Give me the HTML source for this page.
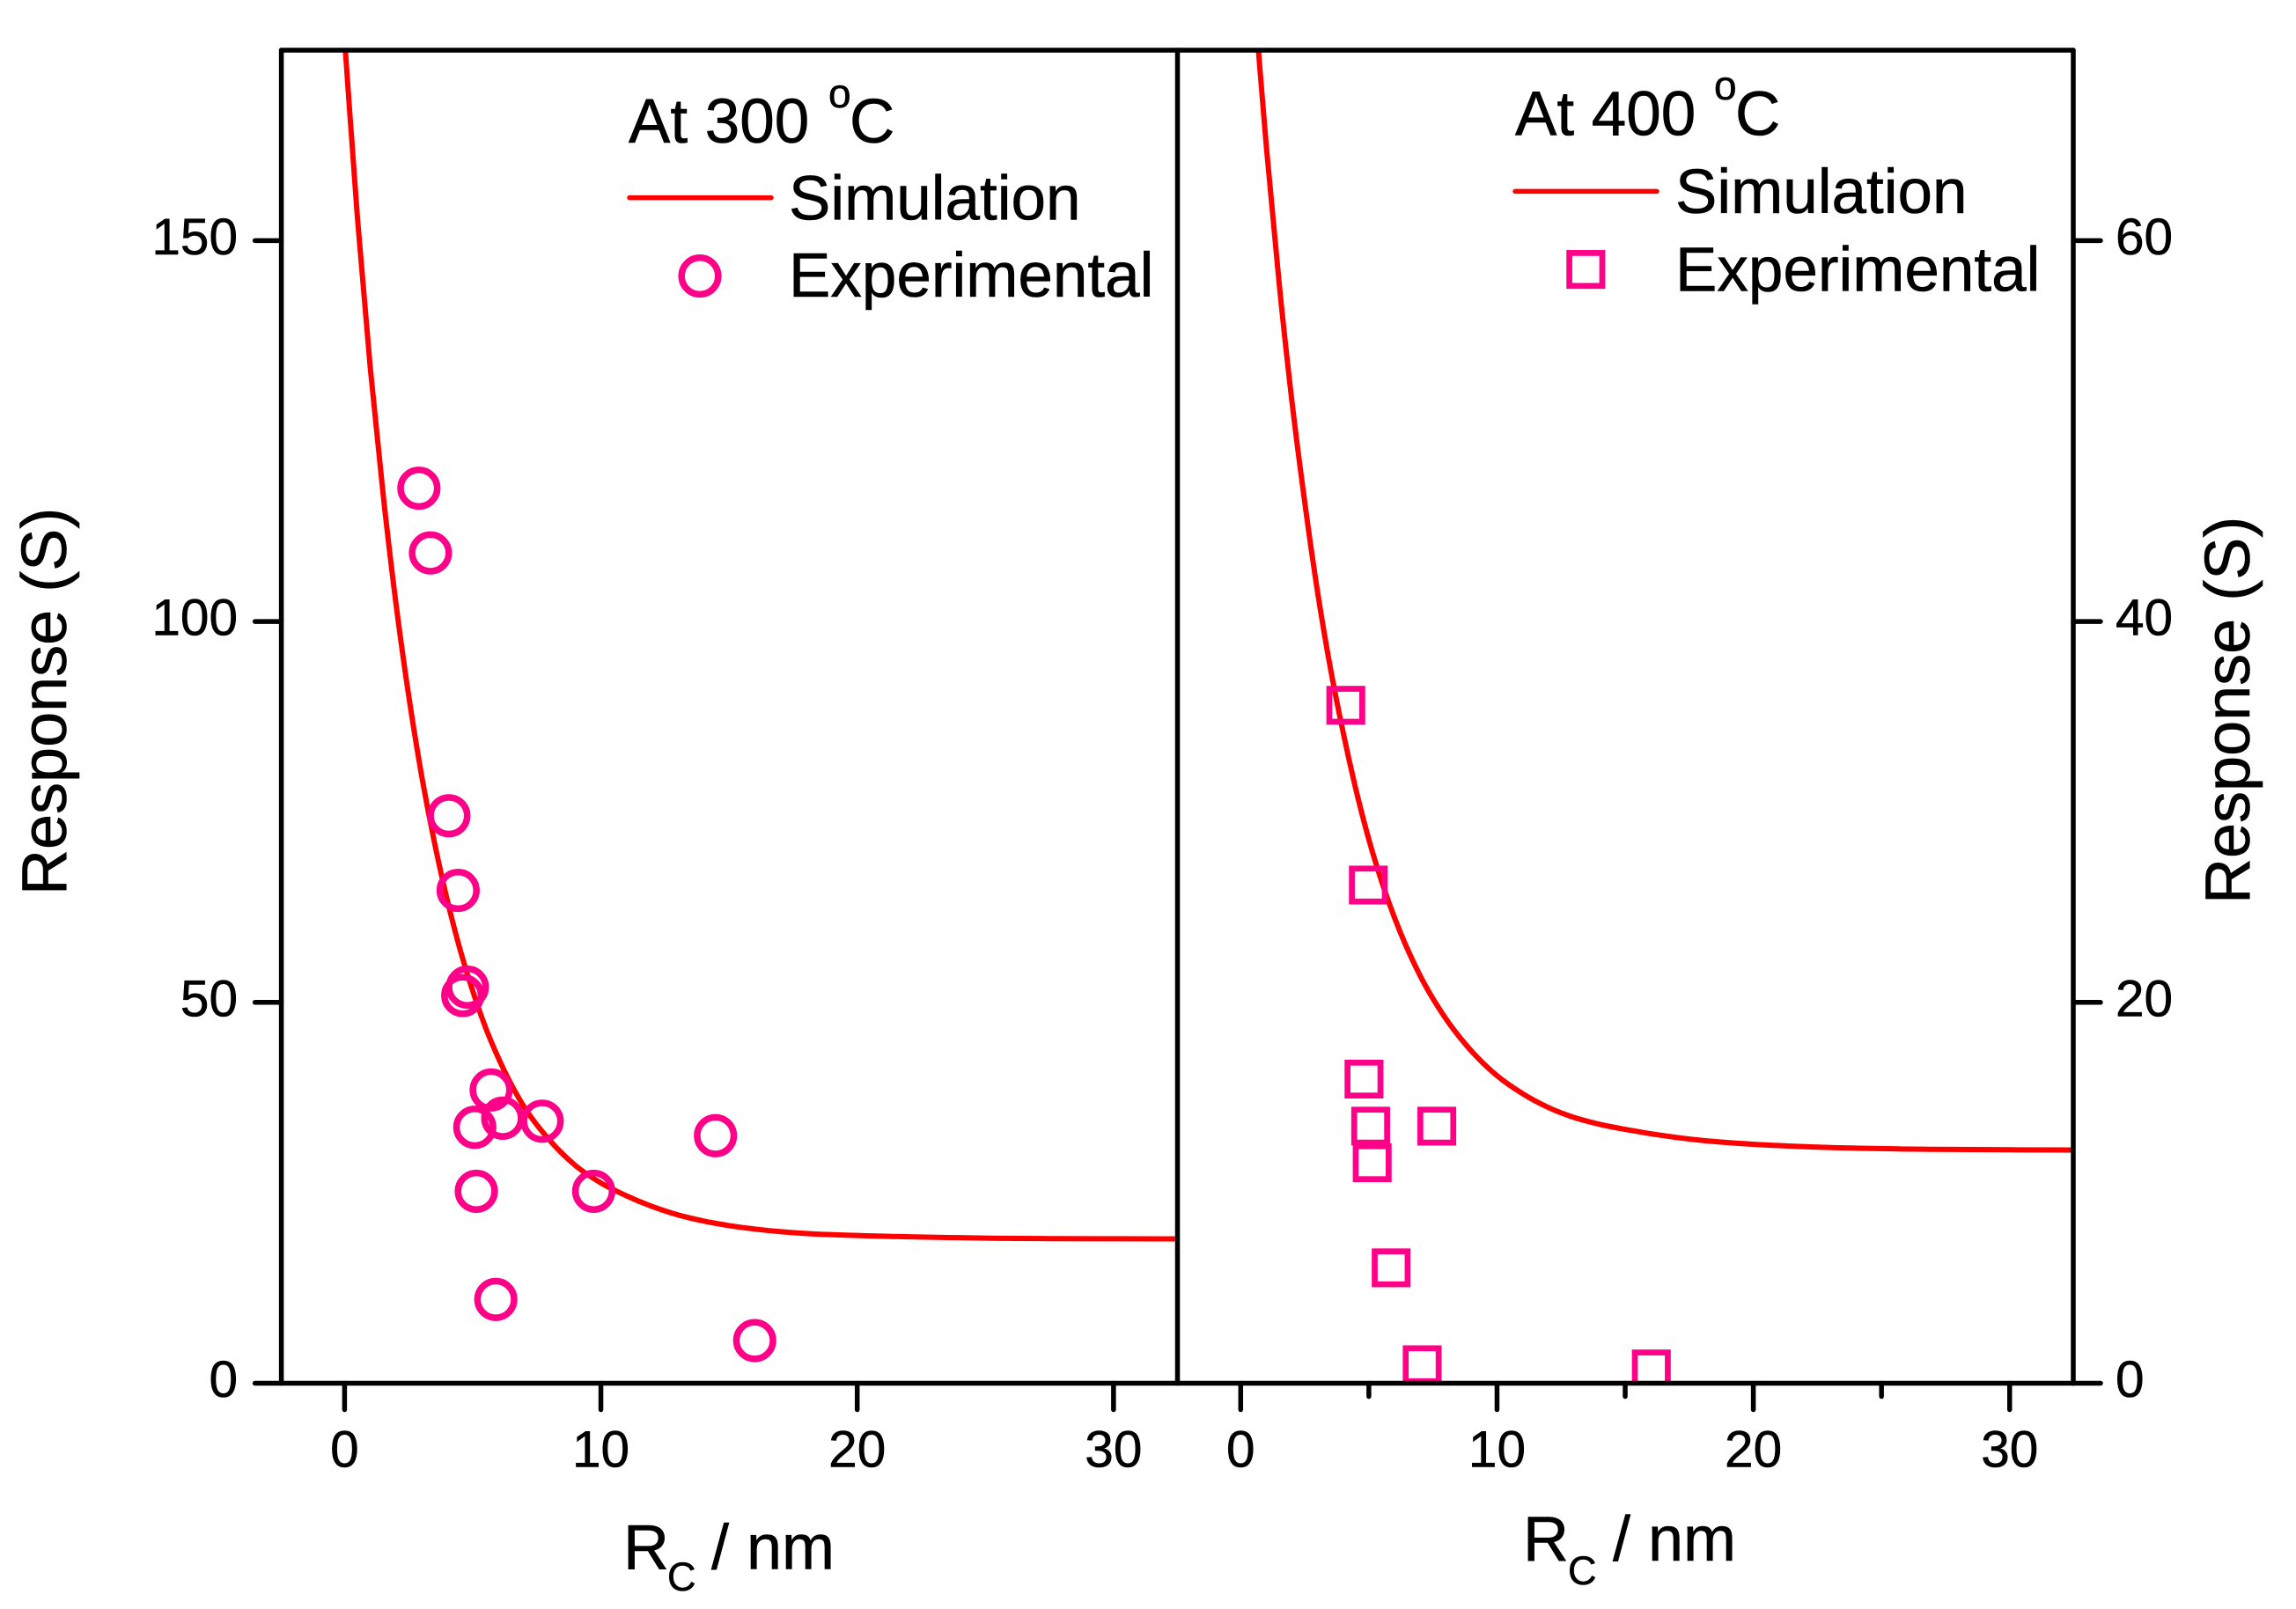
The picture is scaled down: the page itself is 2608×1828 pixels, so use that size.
<!DOCTYPE html>
<html lang="en">
<head>
<meta charset="utf-8">
<title>Response vs Rc</title>
<style>
html,body{margin:0;padding:0;background:#fff;}
svg{display:block;}
text{font-family:"Liberation Sans",Arial,sans-serif;fill:#000;stroke:#000;stroke-width:0.6px;}
.big{font-size:71px;}
.title{font-size:72px;}
.axt{font-size:72px;}
.tick{font-size:58.5px;}
.sub{font-size:45px;}
.deg{font-size:46px;}
</style>
</head>
<body>
<svg id="chart" xmlns="http://www.w3.org/2000/svg" width="2608" height="1828" viewBox="0 0 2608 1828">
  <defs>
    <clipPath id="clip-left"><rect x="319.6" y="57" width="1017.9" height="1514.5"/></clipPath>
    <clipPath id="clip-right"><rect x="1337.5" y="57" width="1017.5" height="1514.5"/></clipPath>
  </defs>
  <rect width="2608" height="1828" fill="#fff"/>
  <g id="left-marks" clip-path="url(#clip-left)"></g>
  <g id="right-marks" clip-path="url(#clip-right)"></g>
  <g id="axes"></g>

  <text class="title" transform="translate(75 1017) rotate(-90)">Response (S)</text>
  <text class="title" transform="translate(2555 1027) rotate(-90)">Response (S)</text>

  <g>
    <text class="axt" x="708" y="1782.6">R</text>
    <text class="sub" x="758" y="1807">C</text>
    <text class="axt" x="808" y="1782.6">/ nm</text>
  </g>
  <g>
    <text class="axt" x="1730" y="1773">R</text>
    <text class="sub" x="1781" y="1800">C</text>
    <text class="axt" x="1832" y="1773">/ nm</text>
  </g>

  <g>
    <text class="big" x="714" y="162">At 300</text>
    <text class="deg" x="941" y="122">o</text>
    <text class="big" x="965" y="162">C</text>
    <line x1="715" x2="876" y1="224.6" y2="224.6" stroke="#ff0000" stroke-width="5.5" stroke-linecap="round"/>
    <text class="big" x="896" y="249.5">Simulation</text>
    <circle cx="795" cy="313.6" r="20.8" fill="none" stroke="#ff0088" stroke-width="7.5"/>
    <text class="big" x="896" y="337">Experimental</text>
  </g>
  <g>
    <text class="big" x="1721" y="153.3">At 400</text>
    <text class="deg" x="1947" y="113">o</text>
    <text class="big" x="1971" y="153.3">C</text>
    <line x1="1721" x2="1882" y1="217.4" y2="217.4" stroke="#ff0000" stroke-width="5.5" stroke-linecap="round"/>
    <text class="big" x="1903" y="242">Simulation</text>
    <rect x="1782.6" y="287.4" width="37.4" height="37.4" fill="none" stroke="#ff0088" stroke-width="6.7"/>
    <text class="big" x="1903" y="330.5">Experimental</text>
  </g>
</svg>
<script>
// Values
const leftExpRc = [2.9, 3.35, 4.07, 4.43, 4.61, 4.79, 5.72, 5.08, 6.17, 7.71, 14.47, 5.14, 9.72, 5.9, 16.0];
const leftExpResponse = [117.5, 109.0, 74.5, 64.7, 50.9, 52.0, 38.5, 33.6, 34.8, 34.4, 32.5, 25.2, 25.2, 11.0, 5.6];
const leftSimRc = [0.03, 0.5, 1, 1.5, 2, 2.5, 3, 3.5, 4, 4.5, 5, 5.5, 6, 7, 8, 9, 10, 11, 12, 13, 14, 15, 16, 18, 20, 25, 32.4];
const leftSimResponse = [175, 153, 133.4, 116.8, 102.5, 90.3, 79.9, 71.1, 63.5, 57, 51.5, 46.7, 42.7, 36.3, 31.9, 28.6, 26.3, 24.6, 23.2, 22.1, 21.3, 20.7, 20.25, 19.65, 19.4, 19.05, 18.95];

const rightExpRc = [4.1, 4.98, 4.81, 5.07, 7.65, 5.13, 5.87, 7.08, 16.02];
const rightExpResponse = [35.6, 26.16, 15.97, 13.5, 13.5, 11.58, 6.06, 0.97, 0.75];
const rightSimRc = [0.69, 1, 1.5, 2, 2.5, 3, 3.5, 4, 4.5, 5, 5.5, 6, 7, 8, 9, 10, 11, 12, 13, 14, 15, 16, 18, 20, 22, 27, 32.4];
const rightSimResponse = [70, 64.95, 57.75, 51.55, 46.25, 41.55, 37.55, 34.15, 31.15, 28.55, 26.35, 24.45, 21.4, 19.15, 17.45, 16.15, 15.2, 14.48, 13.96, 13.6, 13.33, 13.1, 12.75, 12.55, 12.42, 12.28, 12.25];

const xTicks = [0, 10, 20, 30];
const xMinorTicks = [5, 15, 25];
const leftYTicks = [0, 50, 100, 150];
const rightYTicks = [0, 20, 40, 60];

const NS = 'http://www.w3.org/2000/svg';
const plotTop = 57, plotBottom = 1571.5;
const leftEdge = 319.6, midEdge = 1337.5, rightEdge = 2355;
const xUnit = 29.115;
const leftX = v => 391.4 + v * xUnit;
const rightX = v => 1409.3 + v * xUnit;
const leftY = v => plotBottom - v * (plotBottom - plotTop) / 175;
const rightY = v => plotBottom - v * (plotBottom - plotTop) / 70;

function svgEl(tag, attrs, parent, text) {
  const el = document.createElementNS(NS, tag);
  for (const k in attrs) el.setAttribute(k, attrs[k]);
  if (text !== undefined) el.textContent = text;
  parent.appendChild(el);
  return el;
}

// Cubic spline through the points, tangents weighted for uneven x spacing
function smoothPath(xs, ys) {
  const n = xs.length;
  const h = [], d = [], m = [];
  for (let i = 0; i < n - 1; i++) {
    h.push(xs[i + 1] - xs[i]);
    d.push((ys[i + 1] - ys[i]) / h[i]);
  }
  m.push(d[0]);
  for (let i = 1; i < n - 1; i++) {
    m.push((h[i] * d[i - 1] + h[i - 1] * d[i]) / (h[i - 1] + h[i]));
  }
  m.push(d[n - 2]);
  let out = 'M' + xs[0].toFixed(1) + ' ' + ys[0].toFixed(1);
  for (let i = 0; i < n - 1; i++) {
    const c1x = xs[i] + h[i] / 3, c1y = ys[i] + m[i] * h[i] / 3;
    const c2x = xs[i + 1] - h[i] / 3, c2y = ys[i + 1] - m[i + 1] * h[i] / 3;
    out += 'C' + c1x.toFixed(1) + ' ' + c1y.toFixed(1) + ' ' + c2x.toFixed(1) + ' ' + c2y.toFixed(1) + ' ' + xs[i + 1].toFixed(1) + ' ' + ys[i + 1].toFixed(1);
  }
  return out;
}

const leftMarks = document.getElementById('left-marks');
const rightMarks = document.getElementById('right-marks');
const axes = document.getElementById('axes');
const style = { stroke: '#000', 'stroke-width': 5.5, 'stroke-linecap': 'round' };

// Simulation curves
const leftCurve = svgEl('path', { d: smoothPath(leftSimRc.map(leftX), leftSimResponse.map(leftY)), fill: 'none', stroke: '#ff0000', 'stroke-width': 6 }, leftMarks);


const rightCurve = svgEl('path', { d: smoothPath(rightSimRc.map(rightX), rightSimResponse.map(rightY)), fill: 'none', stroke: '#ff0000', 'stroke-width': 6 }, rightMarks);



// Experimental points
leftExpRc.forEach((rc, i) => {
  const c = svgEl('circle', { cx: leftX(rc), cy: leftY(leftExpResponse[i]), r: 20.8, fill: 'none', stroke: '#ff0088', 'stroke-width': 7.5 }, leftMarks);
  
  
});
rightExpRc.forEach((rc, i) => {
  const s = svgEl('rect', { x: rightX(rc) - 18.7, y: rightY(rightExpResponse[i]) - 18.7, width: 37.4, height: 37.4, fill: 'none', stroke: '#ff0088', 'stroke-width': 6.7 }, rightMarks);
  
  
});

// Frame
[[leftEdge, plotTop, rightEdge, plotTop], [leftEdge, plotBottom, rightEdge, plotBottom],
 [leftEdge, plotTop, leftEdge, plotBottom], [midEdge, plotTop, midEdge, plotBottom], [rightEdge, plotTop, rightEdge, plotBottom]].forEach(f => {
  const l = svgEl('line', Object.assign({ x1: f[0], y1: f[1], x2: f[2], y2: f[3] }, style), axes);
  
  
});

// X ticks and labels
xTicks.forEach(v => {
  [leftX, rightX].forEach(fx => {
    const t = svgEl('line', Object.assign({ x1: fx(v), x2: fx(v), y1: plotBottom, y2: plotBottom + 30 }, style), axes);
    
    
    const lab = svgEl('text', { class: 'tick', x: fx(v), y: 1666.5, 'text-anchor': 'middle' }, axes, String(v));
    
    
  });
});
xMinorTicks.forEach(v => {
  const t = svgEl('line', Object.assign({ x1: rightX(v), x2: rightX(v), y1: plotBottom, y2: plotBottom + 15 }, style), axes);
  
  
});

// Y ticks and labels
leftYTicks.forEach(v => {
  const y = leftY(v);
  const t = svgEl('line', Object.assign({ x1: leftEdge - 30, x2: leftEdge, y1: y, y2: y }, style), axes);
  
  
  const lab = svgEl('text', { class: 'tick', x: 270, y: y + 15.5, 'text-anchor': 'end' }, axes, String(v));
  
  
});
rightYTicks.forEach(v => {
  const y = rightY(v);
  const t = svgEl('line', Object.assign({ x1: rightEdge, x2: rightEdge + 31, y1: y, y2: y }, style), axes);
  
  
  const lab = svgEl('text', { class: 'tick', x: 2403, y: y + 15.5 }, axes, String(v));
  
  
});
</script>
</body>
</html>
